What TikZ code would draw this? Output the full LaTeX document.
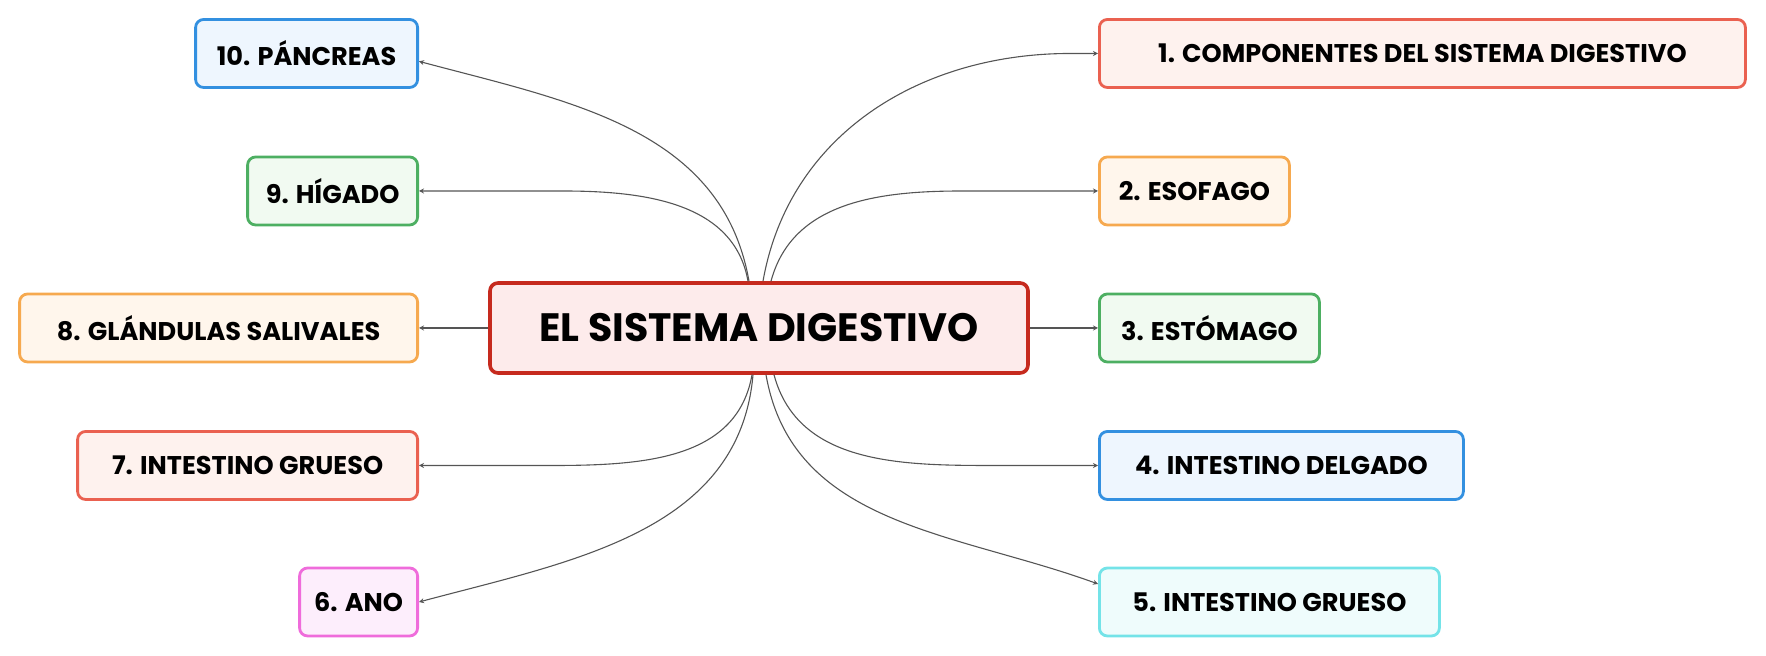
\documentclass[tikz,border=0pt]{standalone}
\usepackage{fontspec}
\setmainfont{Poppins}
\usetikzlibrary{arrows.meta,calc}

\definecolor{mainB}{HTML}{C62A1E}
\definecolor{mainF}{HTML}{FDEBEB}
\definecolor{redB}{HTML}{EA6150}
\definecolor{redF}{HTML}{FEF2EE}
\definecolor{orgB}{HTML}{F6A94F}
\definecolor{orgF}{HTML}{FFF6EC}
\definecolor{grnB}{HTML}{4DAF62}
\definecolor{grnF}{HTML}{F1FAF1}
\definecolor{bluB}{HTML}{3390E0}
\definecolor{bluF}{HTML}{EEF6FE}
\definecolor{cyaB}{HTML}{74E3E8}
\definecolor{cyaF}{HTML}{EFFCFC}
\definecolor{pnkB}{HTML}{EF6CDB}
\definecolor{pnkF}{HTML}{FDEEFC}
\definecolor{lineG}{HTML}{555555}

\tikzset{
	topic/.style={draw, rounded corners=4pt, line width=1.4pt, minimum height=34pt, inner sep=0pt, font=\bfseries\fontsize{12.8}{15}\selectfont},
	conn/.style={draw=lineG, line width=0.55pt, -{Stealth[length=2.5pt,width=2.5pt]}},
}

\begin{document}
\begin{tikzpicture}[x=0.5pt, y=0.5pt]
		\useasboundingbox (0,0) rectangle (1766,656);
		\node[topic, draw=mainB, fill=mainF, line width=1.8pt, minimum width=269pt, minimum height=45pt, font=\bfseries\fontsize{19.8}{23}\selectfont] (c) at (759,328) {EL SISTEMA DIGESTIVO};
		
		\node[topic, draw=redB, fill=redF, anchor=west, minimum width=323pt] (n1) at (1098,602.5) {1. COMPONENTES DEL SISTEMA DIGESTIVO};
		\node[topic, draw=orgB, fill=orgF, anchor=west, minimum width=95pt] (n2) at (1098,465) {2. ESOFAGO};
		\node[topic, draw=grnB, fill=grnF, anchor=west, minimum width=110pt] (n3) at (1098,328) {3. ESTÓMAGO};
		\node[topic, draw=bluB, fill=bluF, anchor=west, minimum width=182pt] (n4) at (1098,190.5) {4. INTESTINO DELGADO};
		\node[topic, draw=cyaB, fill=cyaF, anchor=west, minimum width=170pt] (n5) at (1098,54) {5. INTESTINO GRUESO};
		\node[topic, draw=pnkB, fill=pnkF, anchor=east, minimum width=59pt] (n6) at (419,54) {6. ANO};
		\node[topic, draw=redB, fill=redF, anchor=east, minimum width=170pt] (n7) at (419,190.5) {7. INTESTINO GRUESO};
		\node[topic, draw=orgB, fill=orgF, anchor=east, minimum width=199pt] (n8) at (419,328) {8. GLÁNDULAS SALIVALES};
		\node[topic, draw=grnB, fill=grnF, anchor=east, minimum width=85pt] (n9) at (419,465) {9. HÍGADO};
		\node[topic, draw=bluB, fill=bluF, anchor=east, minimum width=111pt] (n10) at (419,602.5) {10. PÁNCREAS};
		
		\draw[conn] (c.west) -- (n8.east);
		\draw[conn] (c.east) -- (n3.west);
		\draw[conn] ([xshift=-5pt]c.north) to[out=100, in=-15] (n10.356);
		\draw[conn] ([xshift=-5.5pt]c.north) to[out=100, in=0] ($(n9.east)+(143,0)$) -- (n9.east);
		\draw[conn] ([xshift=2pt]c.north) to[out=80, in=180] ($(n1.west)+(-28,0)$) -- (n1.west);
		\draw[conn] ([xshift=6pt]c.north) to[out=75, in=180] ($(n2.west)+(-135,0)$) -- (n2.west);
		\draw[conn] ([xshift=7.5pt]c.south) to[out=-75, in=180] ($(n4.west)+(-101,0)$) -- (n4.west);
		\draw[conn] ([xshift=3.5pt]c.south) to[out=-80, in=160] (n5.174);
		\draw[conn] ([xshift=-3.5pt]c.south) to[out=-100, in=0] ($(n7.east)+(104,0)$) -- (n7.east);
		\draw[conn] ([xshift=-3pt]c.south) to[out=-95, in=15] (n6.east);
	\end{tikzpicture}
\end{document}
